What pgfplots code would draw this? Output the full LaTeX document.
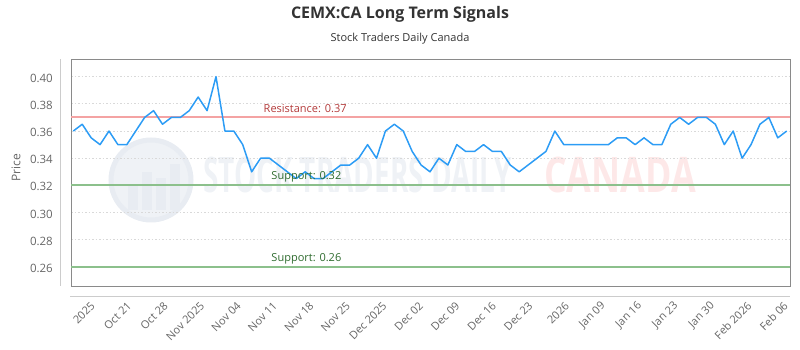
\documentclass[border=0pt]{standalone}
\usepackage{pgfplots}
\pgfplotsset{compat=1.18}
\usepackage{fontspec}
\setmainfont{Open Sans}
\definecolor{linecol}{HTML}{2C9CF5}
\definecolor{resline}{HTML}{F4A3A3}
\definecolor{restext}{HTML}{B33A3A}
\definecolor{supline}{HTML}{8CC08C}
\definecolor{suptext}{HTML}{2E6B2E}
\definecolor{gridgray}{HTML}{D9D9D9}
\definecolor{bordergray}{HTML}{8A8A8A}
\definecolor{axisgray}{HTML}{CCCCCC}
\definecolor{tickgray}{HTML}{666666}
\definecolor{titlecol}{HTML}{333333}
\definecolor{wmgray}{HTML}{EFF2F6}
\definecolor{wmring}{HTML}{E8ECF2}
\definecolor{wmpink}{HTML}{FDE8E8}
\pgfplotstableread{
x y
0 0.36
1 0.365
2 0.355
3 0.35
4 0.36
5 0.35
6 0.35
7 0.36
8 0.37
9 0.375
10 0.365
11 0.37
12 0.37
13 0.375
14 0.385
15 0.375
16 0.40
17 0.36
18 0.36
19 0.35
20 0.33
21 0.34
22 0.34
23 0.335
24 0.33
25 0.325
26 0.33
27 0.325
28 0.325
29 0.33
30 0.335
31 0.335
32 0.34
33 0.35
34 0.34
35 0.36
36 0.365
37 0.36
38 0.345
39 0.335
40 0.33
41 0.34
42 0.335
43 0.35
44 0.345
45 0.345
46 0.35
47 0.345
48 0.345
49 0.335
50 0.33
51 0.335
52 0.34
53 0.345
54 0.36
55 0.35
56 0.35
57 0.35
58 0.35
59 0.35
60 0.35
61 0.355
62 0.355
63 0.35
64 0.355
65 0.35
66 0.35
67 0.365
68 0.37
69 0.365
70 0.37
71 0.37
72 0.365
73 0.35
74 0.36
75 0.34
76 0.35
77 0.365
78 0.37
79 0.355
80 0.36
}\pricedata
\begin{document}
\begin{tikzpicture}[x=1pt,y=1pt]
\path[use as bounding box] (0,0) rectangle (800,350);
% watermark
\fill[wmgray] (151,170) circle (42);
\draw[wmring, line width=5pt] (151,170) circle (40);
\fill[wmring] (128,140) rectangle (138,165);
\fill[wmring] (142,140) rectangle (152,178);
\fill[wmring] (156,140) rectangle (166,172);
\fill[wmring] (170,140) rectangle (180,186);
\node[anchor=base west, inner sep=0pt, text=wmgray, xscale=0.57, font=\bfseries\fontsize{49}{50}\selectfont] at (203,157) {STOCK TRADERS DAILY};
\node[anchor=base west, inner sep=0pt, text=wmpink, xscale=0.73, font=\bfseries\fontsize{49}{50}\selectfont] at (544,157) {CANADA};
% titles
\node[font=\bfseries\fontsize{16}{19}\selectfont, text=titlecol] at (400,336) {CEMX:CA Long Term Signals};
\node[font=\fontsize{11}{13}\selectfont, text=titlecol] at (400,311) {Stock Traders Daily Canada};
\node[rotate=90, font=\fontsize{12}{14}\selectfont, text=tickgray] at (16,182) {Price};
\begin{axis}[
  at={(71pt,64pt)}, anchor=south west, scale only axis,
  width=719pt, height=227pt,
  xmin=-0.26, xmax=80.37, ymin=0.246, ymax=0.413,
  axis line style={draw=bordergray, line width=0.8pt},
  ytick={0.26,0.28,0.30,0.32,0.34,0.36,0.38,0.40},
  scaled y ticks=false,
  yticklabel style={/pgf/number format/fixed, /pgf/number format/fixed zerofill,
    /pgf/number format/precision=2, /pgf/number format/assume math mode=true,
    font=\fontsize{11.5}{13}\selectfont, text=tickgray, anchor=east, inner sep=0pt,
    xshift=-18pt, yshift=-1.5pt},
  xtick={2.2,6.29,10.38,14.47,18.56,22.65,26.74,30.83,34.92,39.01,43.1,47.19,51.28,55.37,59.46,63.55,67.64,71.73,75.82,79.91},
  xticklabels={2025,Oct 21,Oct 28,Nov 2025,Nov 04,Nov 11,Nov 18,Nov 25,Dec 2025,Dec 02,Dec 09,Dec 16,Dec 23,2026,Jan 09,Jan 16,Jan 23,Jan 30,Feb 2026,Feb 06},
  xticklabel style={yshift=-18pt, rotate=45, anchor=east, inner sep=0pt,
    font=\fontsize{11}{13}\selectfont, text=tickgray},
  major tick length=0pt,
  ymajorgrids,
  grid style={gridgray, dash pattern=on 1.5pt off 2pt, line width=0.8pt},
  clip=false,
]
\addplot[resline, line width=2pt] coordinates {(-0.26,0.37) (80.37,0.37)};
\addplot[supline, line width=2pt] coordinates {(-0.26,0.32) (80.37,0.32)};
\addplot[supline, line width=2pt] coordinates {(-0.26,0.26) (80.37,0.26)};
\addplot[linecol, line width=1.5pt, line join=round] table[x=x, y=y] {\pricedata};
\node[anchor=base west, inner sep=0pt, text=restext, font=\fontsize{11}{13}\selectfont, yshift=4.7pt] at (axis cs:21.33,0.37) {Resistance: 0.37};
\node[anchor=base west, inner sep=0pt, text=suptext, font=\fontsize{11}{13}\selectfont, yshift=5.5pt] at (axis cs:22.2,0.32) {Support: 0.32};
\node[anchor=base west, inner sep=0pt, text=suptext, font=\fontsize{11}{13}\selectfont, yshift=5.5pt] at (axis cs:22.2,0.26) {Support: 0.26};
\end{axis}
\draw[axisgray, line width=0.8pt] (60,64) -- (60,291);
\draw[axisgray, line width=0.8pt] (70,54) -- (790,54);
\end{tikzpicture}
\end{document}
